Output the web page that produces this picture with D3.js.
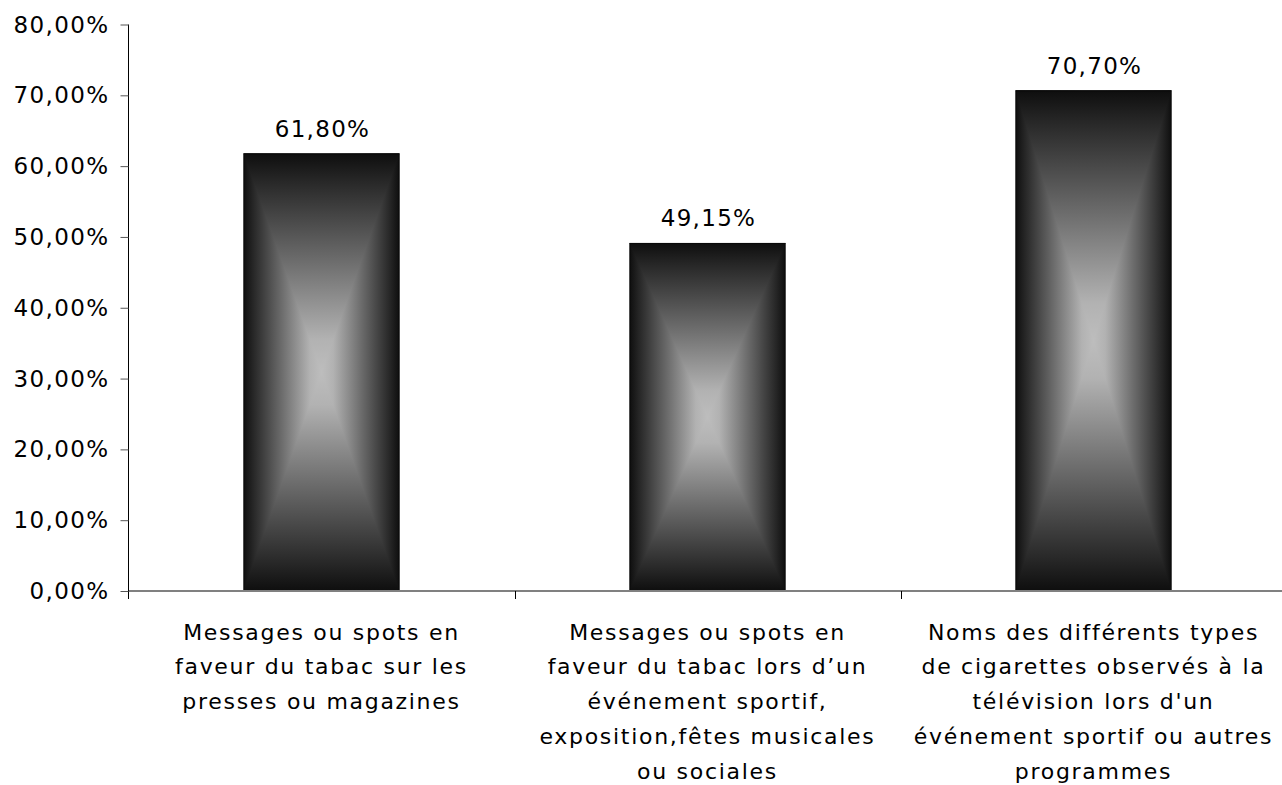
<!DOCTYPE html>
<html><head><meta charset="utf-8">
<script src="https://cdn.jsdelivr.net/npm/d3@7"></script>
<style>html,body{margin:0;padding:0;background:#fff;}svg{display:block;}</style>
</head><body>
<script>
const categories = [
  ["Messages ou spots en", "faveur du tabac sur les", "presses ou magazines"],
  ["Messages ou spots en", "faveur du tabac lors d\u2019un", "événement sportif,", "exposition,fêtes musicales", "ou sociales"],
  ["Noms des différents types", "de cigarettes observés à la", "télévision lors d'un", "événement sportif ou autres", "programmes"]
];
const values = [61.80, 49.15, 70.70];
const yTicks = [0, 10, 20, 30, 40, 50, 60, 70, 80];

const W = 1282, H = 785;
const svg = d3.select("body").append("svg").attr("width", W).attr("height", H);
const fmt = d => d.toFixed(2).replace(".", ",") + "%";

const x = d3.scaleBand().domain(d3.range(categories.length)).range([128.5, 128.5 + 3 * 386]).paddingInner(0.596).paddingOuter(0.298);
const y = d3.scaleLinear().domain([0, 80]).range([591, 24.5]);

const defs = svg.append("defs");
const stops = [[0, "#0e0e0e"], [0.12, "#262626"], [0.5, "#6e6e6e"], [0.85, "#b2b2b2"], [1, "#bdbdbd"]];
function grad(id, x2, y2, sym) {
  const g = defs.append("linearGradient").attr("id", id).attr("x1", 0).attr("y1", 0).attr("x2", x2).attr("y2", y2);
  let st;
  if (sym) st = stops.map(s => [s[0] / 2, s[1]]).concat(stops.slice().reverse().map(s => [1 - s[0] / 2, s[1]]));
  else st = stops;
  st.forEach(s => g.append("stop").attr("offset", s[0]).attr("stop-color", s[1]));
  return g;
}
grad("gH", 1, 0, true);
grad("gTop", 0, 1, false);
const gb = defs.append("linearGradient").attr("id", "gBot").attr("x1", 0).attr("y1", 1).attr("x2", 0).attr("y2", 0);
stops.forEach(s => gb.append("stop").attr("offset", s[0]).attr("stop-color", s[1]));

// bars
values.forEach((v, i) => {
  const x0 = x(i), x1 = x(i) + x.bandwidth(), y0 = y(v), y1 = y(0);
  const cx = (x0 + x1) / 2, cy = (y0 + y1) / 2;
  const g = svg.append("g");
  g.append("rect").attr("x", x0).attr("y", y0).attr("width", x.bandwidth()).attr("height", y1 - y0).attr("fill", "url(#gH)");
  g.append("path").attr("d", `M${x0},${y0}L${x1},${y0}L${cx},${cy}Z`).attr("fill", "url(#gTop)");
  g.append("path").attr("d", `M${x0},${y1}L${x1},${y1}L${cx},${cy}Z`).attr("fill", "url(#gBot)");
  g.append("rect").attr("x", x0 + 0.5).attr("y", y0 + 0.5).attr("width", x.bandwidth() - 1).attr("height", y1 - y0 - 1)
    .attr("fill", "none").attr("stroke", "#0a0a0a").attr("stroke-width", 1);
  svg.append("text").attr("x", cx + 1).attr("y", y0 - 16.5).attr("text-anchor", "middle")
    .attr("font-family", "DejaVu Sans").attr("font-size", 23).attr("letter-spacing", 1.3).attr("fill", "#000")
    .text(fmt(v));
});

// x axis line
svg.append("line").attr("x1", 128).attr("x2", W).attr("y1", 591).attr("y2", 591).attr("stroke", "#808080").attr("stroke-width", 2);
// category ticks
[1, 2].forEach(i => {
  const xt = Math.round(x(i) - x.step() * x.paddingInner() / 2) + 0.5;
  svg.append("line").attr("x1", xt).attr("x2", xt).attr("y1", 591).attr("y2", 599).attr("stroke", "#000").attr("stroke-width", 1);
});

// y axis
const ya = svg.append("g").attr("transform", "translate(128.5,0)")
  .call(d3.axisLeft(y).tickValues(yTicks).tickFormat(fmt).tickSize(8).tickSizeOuter(0));
ya.select(".domain").attr("stroke", "#000").attr("d", `M0,${y(80)}V599`);
ya.selectAll(".tick line").attr("stroke", "#555");
ya.selectAll(".tick text").attr("font-family", "DejaVu Sans").attr("font-size", 23).attr("letter-spacing", 1.4)
  .attr("fill", "#000").attr("x", -19).attr("dy", "0.33em");

// category labels
categories.forEach((lines, i) => {
  const cx = x(i) + x.bandwidth() / 2;
  const t = svg.append("text").attr("text-anchor", "middle").attr("font-family", "DejaVu Sans").attr("font-size", 22)
    .attr("letter-spacing", 1.7).attr("fill", "#000");
  lines.forEach((l, j) => t.append("tspan").attr("x", cx).attr("y", 639.5 + j * 34.9).text(l));
});
</script>
</body></html>
